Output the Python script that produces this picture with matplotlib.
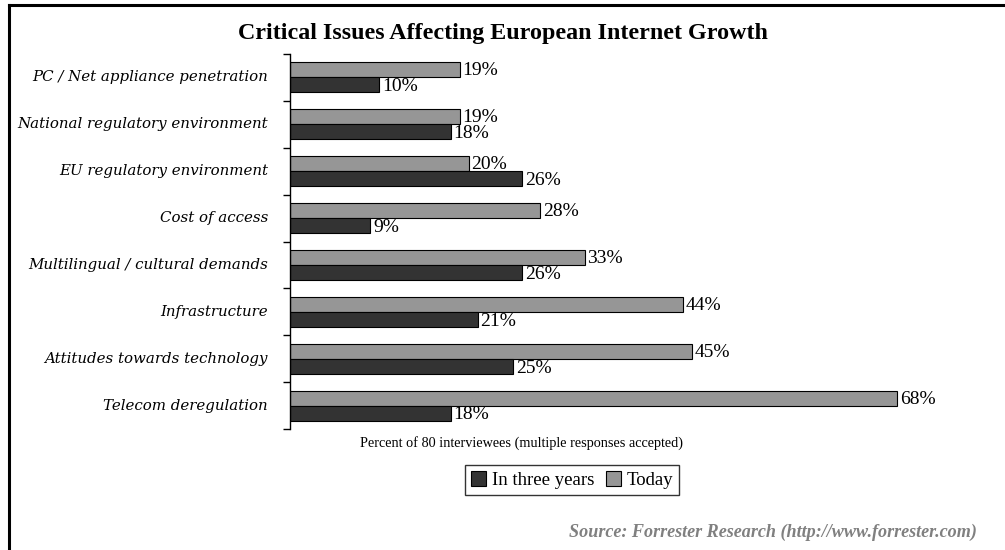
import matplotlib
matplotlib.use("Agg")
from matplotlib import pyplot as plt
from matplotlib.lines import Line2D
from matplotlib.patches import Patch
import numpy as np

# survey data, percent of 80 interviewees
issues = [
    "PC / Net appliance penetration",
    "National regulatory environment",
    "EU regulatory environment",
    "Cost of access",
    "Multilingual / cultural demands",
    "Infrastructure",
    "Attitudes towards technology",
    "Telecom deregulation",
]
today = [19, 19, 20, 28, 33, 44, 45, 68]
in_three_years = [10, 18, 26, 9, 26, 21, 25, 18]

today_color = "#969696"
future_color = "#333333"

fig = plt.figure(figsize=(10.05, 5.5), dpi=100)
ax = fig.add_axes([290 / 1005, 121 / 550, 670 / 1005, 375 / 550])

y = np.arange(len(issues))
h = 0.32

ax.barh(y - h / 2, today, height=h, color=today_color, edgecolor="black", linewidth=0.8)
ax.barh(y + h / 2, in_three_years, height=h, color=future_color, edgecolor="black", linewidth=0.8)

# value labels
for yi, v in zip(y, today):
    ax.text(v + 0.3, yi - h / 2 + 0.02, f"{v}%", va="center", ha="left",
            fontsize=14, family="Liberation Serif")
for yi, v in zip(y, in_three_years):
    ax.text(v + 0.3, yi + h / 2 + 0.04, f"{v}%", va="center", ha="left",
            fontsize=14, family="Liberation Serif")

ax.set_xlim(0, 75)
ax.set_ylim(len(issues) - 0.5, -0.5)

# category boundaries as tick marks, names centered between them
ax.set_yticks(np.arange(len(issues) + 1) - 0.5)
ax.set_yticklabels([])
ax.tick_params(axis="y", length=5, width=1, direction="out")
for yi, name in zip(y, issues):
    ax.text(-0.033, yi, name, transform=ax.get_yaxis_transform(), ha="right", va="center",
            fontsize=10.8, family="DejaVu Serif", style="italic")

ax.set_xticks([])
for s in ["top", "right", "bottom"]:
    ax.spines[s].set_visible(False)
ax.spines["left"].set_linewidth(1)

fig.text(0.5, 1 - 33 / 550, "Critical Issues Affecting European Internet Growth",
         ha="center", va="center", fontsize=17.3, fontweight="bold", family="Liberation Serif")

fig.text(521 / 1005, 1 - 443 / 550, "Percent of 80 interviewees (multiple responses accepted)",
         ha="center", va="center", fontsize=10.3, family="Liberation Serif")

handles = [Patch(facecolor=future_color, edgecolor="black", linewidth=0.8),
           Patch(facecolor=today_color, edgecolor="black", linewidth=0.8)]
leg = fig.legend(handles, ["In three years", "Today"], loc="center",
                 bbox_to_anchor=(572 / 1005, 1 - 480 / 550), ncol=2,
                 prop={"family": "Liberation Serif", "size": 13.5},
                 frameon=True, fancybox=False, edgecolor="black",
                 handlelength=0.8, handleheight=0.8, handletextpad=0.3,
                 columnspacing=0.6, borderpad=0.35, borderaxespad=0)
leg.get_frame().set_linewidth(1)

fig.text(977 / 1005, 1 - 532 / 550, "Source: Forrester Research (http://www.forrester.com)",
         ha="right", va="center", fontsize=13.1, fontweight="bold", style="italic",
         color="#808080", family="Liberation Serif")

# frame edges along top and left
fig.add_artist(Line2D([9 / 1005, 1], [1 - 5 / 550, 1 - 5 / 550], color="black", linewidth=2.2,
                      transform=fig.transFigure))
fig.add_artist(Line2D([9 / 1005, 9 / 1005], [0, 1 - 5 / 550], color="black", linewidth=2.2,
                      transform=fig.transFigure))

fig.savefig("out.png", dpi=100)
